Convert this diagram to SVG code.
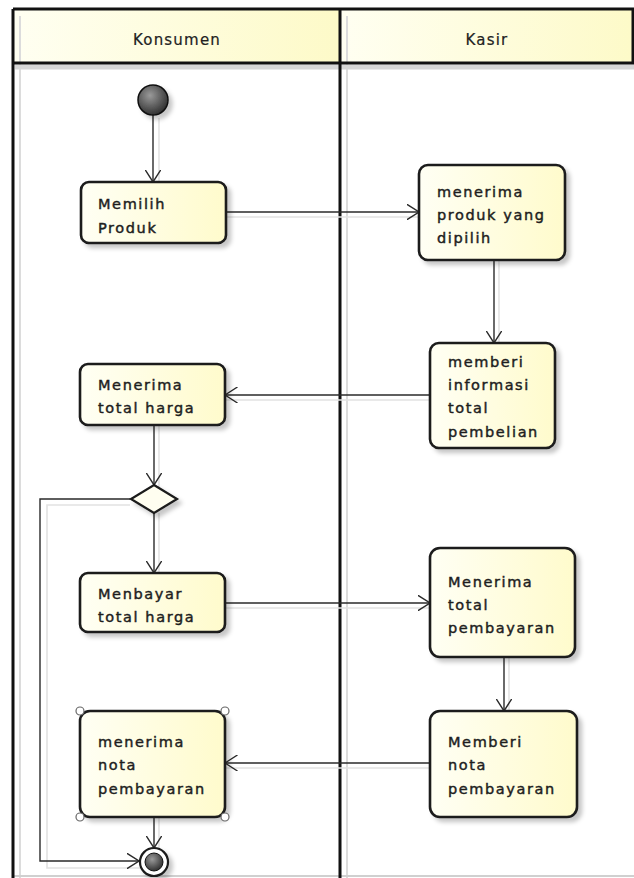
<svg xmlns="http://www.w3.org/2000/svg" width="634" height="878" viewBox="0 0 634 878">
<style>
.lane{stroke:#111;stroke-width:3;fill:none}
.ghost{stroke:#dcdcdc;stroke-width:2;fill:none}
.head{font-family:"DejaVu Sans",sans-serif;font-size:15px;fill:#222;text-anchor:middle;letter-spacing:1.2px;stroke:#222;stroke-width:0.2}
.act{fill:url(#actGrad);stroke:#1a1a1a;stroke-width:2.6;filter:url(#sh)}
.lbl{font-family:"DejaVu Sans",sans-serif;font-size:14.5px;fill:#1e1e1e;letter-spacing:1.6px;stroke:#1e1e1e;stroke-width:0.45}
.edge{stroke:#2a2a2a;stroke-width:1.4;fill:none;marker-end:url(#arr)}
.eshadow{stroke:#e2e2e2;stroke-width:1.6;fill:none}
.handle{fill:#fff;stroke:#666;stroke-width:1.2}
</style>
<defs>
<linearGradient id="actGrad" x1="0" y1="0" x2="1" y2="0">
<stop offset="0" stop-color="#fffff4"/>
<stop offset="1" stop-color="#fffbcc"/>
</linearGradient>
<linearGradient id="headGrad" x1="0" y1="0" x2="1" y2="0">
<stop offset="0" stop-color="#fffff2"/>
<stop offset="1" stop-color="#fdfac8"/>
</linearGradient>
<radialGradient id="ballGrad" cx="0.4" cy="0.35" r="0.7">
<stop offset="0" stop-color="#9a9a9a"/>
<stop offset="1" stop-color="#2a2a2a"/>
</radialGradient>
<filter id="sh" x="-20%" y="-20%" width="150%" height="150%">
<feDropShadow dx="4" dy="4" stdDeviation="2" flood-color="#000" flood-opacity="0.22"/>
</filter>
<marker id="arr" viewBox="0 0 13 16" refX="12.5" refY="8" markerWidth="13" markerHeight="16" markerUnits="userSpaceOnUse" orient="auto">
<path d="M0,0 L12.5,8 L0,16" fill="none" stroke="#2a2a2a" stroke-width="1.4"/>
</marker>
</defs>
<rect width="634" height="878" fill="#fff"/>
<g id="swimlanes">
<rect x="13" y="9" width="327" height="54" fill="url(#headGrad)"/>
<rect x="340" y="9" width="294" height="54" fill="url(#headGrad)"/>
<line class="ghost" x1="20" y1="16" x2="20" y2="878"/>
<line class="ghost" x1="347" y1="16" x2="347" y2="878"/>
<line x1="15" y1="67" x2="634" y2="67" stroke="#d6d6d6" stroke-width="5"/>
<line x1="13" y1="876" x2="634" y2="876" stroke="#d0d0d0" stroke-width="2"/>
<line class="lane" x1="13" y1="9" x2="634" y2="9"/>
<line class="lane" x1="13" y1="63" x2="634" y2="63"/>
<line class="lane" x1="13" y1="9" x2="13" y2="878"/>
<line class="lane" x1="340" y1="9" x2="340" y2="878" stroke-width="4"/>
<line class="lane" x1="633" y1="9" x2="633" y2="63" stroke-width="2"/>
<text class="head" x="177" y="45">Konsumen</text>
<text class="head" x="487" y="45">Kasir</text>
</g>
<g id="connectors">
<g class="shadows">
<line class="eshadow" x1="159" y1="118" x2="159" y2="186"/>
<line class="eshadow" x1="226" y1="217" x2="419" y2="217"/>
<line class="eshadow" x1="499" y1="260" x2="499" y2="343"/>
<line class="eshadow" x1="430" y1="400" x2="225" y2="400"/>
<line class="eshadow" x1="159" y1="425" x2="159" y2="487"/>
<polyline class="eshadow" points="130,505 47,505 47,868 140,868"/>
<line class="eshadow" x1="159" y1="513" x2="159" y2="573"/>
<line class="eshadow" x1="225" y1="608" x2="430" y2="608"/>
<line class="eshadow" x1="509" y1="657" x2="509" y2="711"/>
<line class="eshadow" x1="430" y1="768" x2="225" y2="768"/>
<line class="eshadow" x1="159" y1="817" x2="159" y2="850"/>
</g>
<line class="edge" x1="153" y1="115" x2="153" y2="182"/>
<line class="edge" x1="226" y1="212" x2="419" y2="212"/>
<line class="edge" x1="494" y1="260" x2="494" y2="343"/>
<line class="edge" x1="430" y1="395" x2="225" y2="395"/>
<line class="edge" x1="154" y1="425" x2="154" y2="485"/>
<polyline class="edge" points="130,499 40,499 40,861 139,861"/>
<line class="edge" x1="154" y1="513" x2="154" y2="573"/>
<line class="edge" x1="225" y1="603" x2="430" y2="603"/>
<line class="edge" x1="504" y1="657" x2="504" y2="711"/>
<line class="edge" x1="430" y1="763" x2="225" y2="763"/>
<line class="edge" x1="154" y1="817" x2="154" y2="848"/>
</g>
<g id="start">
<circle cx="153" cy="100" r="15" fill="url(#ballGrad)" stroke="#111" stroke-width="1.5" filter="url(#sh)"/>
</g>
<g id="memilih-produk">
<rect class="act" x="81" y="182" width="145" height="61" rx="8"/>
<text class="lbl" x="98" y="209">Memilih</text>
<text class="lbl" x="98" y="233">Produk</text>
</g>
<g id="menerima-produk">
<rect class="act" x="419" y="165" width="146" height="95" rx="9"/>
<text class="lbl" x="437" y="197">menerima</text>
<text class="lbl" x="437" y="220">produk yang</text>
<text class="lbl" x="437" y="243">dipilih</text>
</g>
<g id="memberi-informasi">
<rect class="act" x="430" y="343" width="125" height="105" rx="9"/>
<text class="lbl" x="448" y="367">memberi</text>
<text class="lbl" x="448" y="390">informasi</text>
<text class="lbl" x="448" y="413">total</text>
<text class="lbl" x="448" y="437">pembelian</text>
</g>
<g id="menerima-total-harga">
<rect class="act" x="80" y="364" width="145" height="61" rx="8"/>
<text class="lbl" x="98" y="390">Menerima</text>
<text class="lbl" x="98" y="413">total harga</text>
</g>
<g id="decision">
<polygon points="154,485 177,499 154,513 131,499" fill="#fffef0" stroke="#1a1a1a" stroke-width="2.2" filter="url(#sh)"/>
</g>
<g id="menbayar-total-harga">
<rect class="act" x="80" y="573" width="145" height="59" rx="8"/>
<text class="lbl" x="98" y="599">Menbayar</text>
<text class="lbl" x="98" y="622">total harga</text>
</g>
<g id="menerima-total-pembayaran">
<rect class="act" x="430" y="548" width="145" height="109" rx="10"/>
<text class="lbl" x="448" y="587">Menerima</text>
<text class="lbl" x="448" y="610">total</text>
<text class="lbl" x="448" y="633">pembayaran</text>
</g>
<g id="memberi-nota">
<rect class="act" x="430" y="711" width="147" height="106" rx="10"/>
<text class="lbl" x="448" y="747">Memberi</text>
<text class="lbl" x="448" y="770">nota</text>
<text class="lbl" x="448" y="794">pembayaran</text>
</g>
<g id="menerima-nota">
<rect class="act" x="80" y="711" width="145" height="106" rx="10"/>
<text class="lbl" x="98" y="747">menerima</text>
<text class="lbl" x="98" y="770">nota</text>
<text class="lbl" x="98" y="794">pembayaran</text>
<circle class="handle" cx="80" cy="711" r="4"/>
<circle class="handle" cx="225" cy="711" r="4"/>
<circle class="handle" cx="80" cy="817" r="4"/>
<circle class="handle" cx="225" cy="817" r="4"/>
</g>
<g id="final">
<circle cx="154" cy="862" r="14" fill="#fff" stroke="#1a1a1a" stroke-width="2.2" filter="url(#sh)"/>
<circle cx="154" cy="862" r="9" fill="url(#ballGrad)" stroke="#111" stroke-width="1"/>
</g>
</svg>
